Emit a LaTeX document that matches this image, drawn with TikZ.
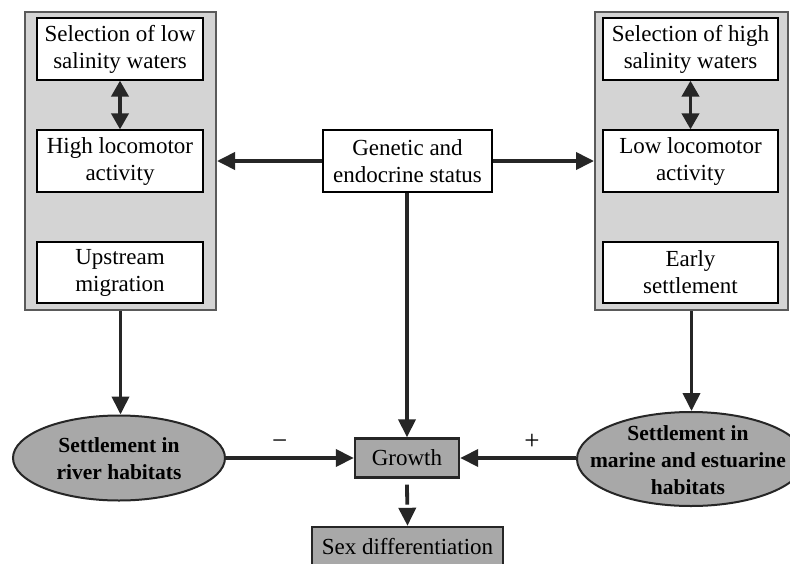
\documentclass[tikz,border=0pt]{standalone}
\usepackage{fontspec}
\setmainfont{Liberation Serif}
\usetikzlibrary{arrows.meta,shapes.geometric}
\definecolor{panelgray}{RGB}{212,212,212}
\definecolor{darkfill}{RGB}{168,168,168}
\definecolor{panelline}{RGB}{90,90,90}
\tikzset{
  txt/.style={font=\fontsize{23}{27}\selectfont, align=center},
  panel/.style={draw=panelline, line width=2pt, fill=panelgray, minimum height=298pt, inner sep=0pt},
  inbox/.style={txt, draw=black, line width=1.2pt, fill=white, minimum height=62pt, inner sep=0pt},
  graybox/.style={txt, draw=black!85, line width=2.4pt, fill=darkfill, inner sep=0pt},
  oval/.style={ellipse, draw=black!85, line width=2pt, fill=darkfill, inner sep=0pt},
  ovaltxt/.style={font=\fontsize{21.5}{27}\selectfont\bfseries, align=center, inner sep=0pt},
  arr/.style={line width=3.8pt, draw=black!85, -{Triangle[length=18pt,width=17pt]}},
  darr/.style={line width=3.8pt, draw=black!85, {Triangle[length=16pt,width=17pt]}-{Triangle[length=16pt,width=17pt]}},
  sign/.style={font=\fontsize{27}{30}\selectfont}
}
\begin{document}
\begin{tikzpicture}[x=1pt,y=-1pt]
\useasboundingbox (0,0) rectangle (790,563);
\fill[white] (0,0) rectangle (790,563);
% panels
\node[panel, minimum width=191pt] (PL) at (120.5,161) {};
\node[panel, minimum width=193pt] (PR) at (691.5,161) {};
% left boxes
\node[inbox, minimum width=166pt] (L1) at (120,49) {Selection of low\\salinity waters};
\node[inbox, minimum width=166pt] (L2) at (120,161) {High locomotor\\activity};
\node[inbox, minimum width=166pt, minimum height=61pt] (L3) at (120,272.5) {Upstream\\migration};
% right boxes
\node[inbox, minimum width=175pt] (R1) at (690.5,49) {Selection of high\\salinity waters};
\node[inbox, minimum width=175pt] (R2) at (690.5,161) {Low locomotor\\activity};
\node[inbox, minimum width=175pt, minimum height=61pt] (R3) at (690.5,272.5) {Early\\settlement};
% center
\node[inbox, minimum width=169pt] (G) at (407.5,161) {Genetic and\\endocrine status};
\node[graybox, minimum width=104pt, minimum height=39pt] (GR) at (407,458) {Growth};
\node[graybox, minimum width=191pt, minimum height=40pt] (SX) at (407.5,547) {Sex differentiation};
% ellipses
\node[oval, minimum width=212pt, minimum height=85pt] (LE) at (119,458) {};
\node[ovaltxt] (LEt) at (119,459) {Settlement in\\river habitats};
\node[oval, minimum width=228pt, minimum height=94pt] (RE) at (691,459) {};
\node[ovaltxt] (REt) at (688,460) {Settlement in\\marine and estuarine\\habitats};
% connectors
\draw[darr] (L1.south) -- (L2.north);
\draw[darr] (R1.south) -- (R2.north);
\draw[arr] (G.west) -- (PL.east);
\draw[arr] (G.east) -- (PR.west);
\draw[arr] (PL.south) -- (PL.south |- LE.north);
\draw[arr] (PR.south) -- (PR.south |- RE.north);
\draw[arr] (G.south -| GR.north) -- (GR.north);
\draw[arr] (LE.east) -- node[sign, above=3pt, pos=0.42] {−} (GR.west);
\draw[arr] (RE.west |- GR.east) -- node[sign, above=3pt, pos=0.38] {+} (GR.east);
\coordinate (dstart) at ([yshift=-6pt]GR.south);
\draw[arr, dash pattern=on 20pt off 30pt] (dstart) -- (SX.north);
\end{tikzpicture}
\end{document}
